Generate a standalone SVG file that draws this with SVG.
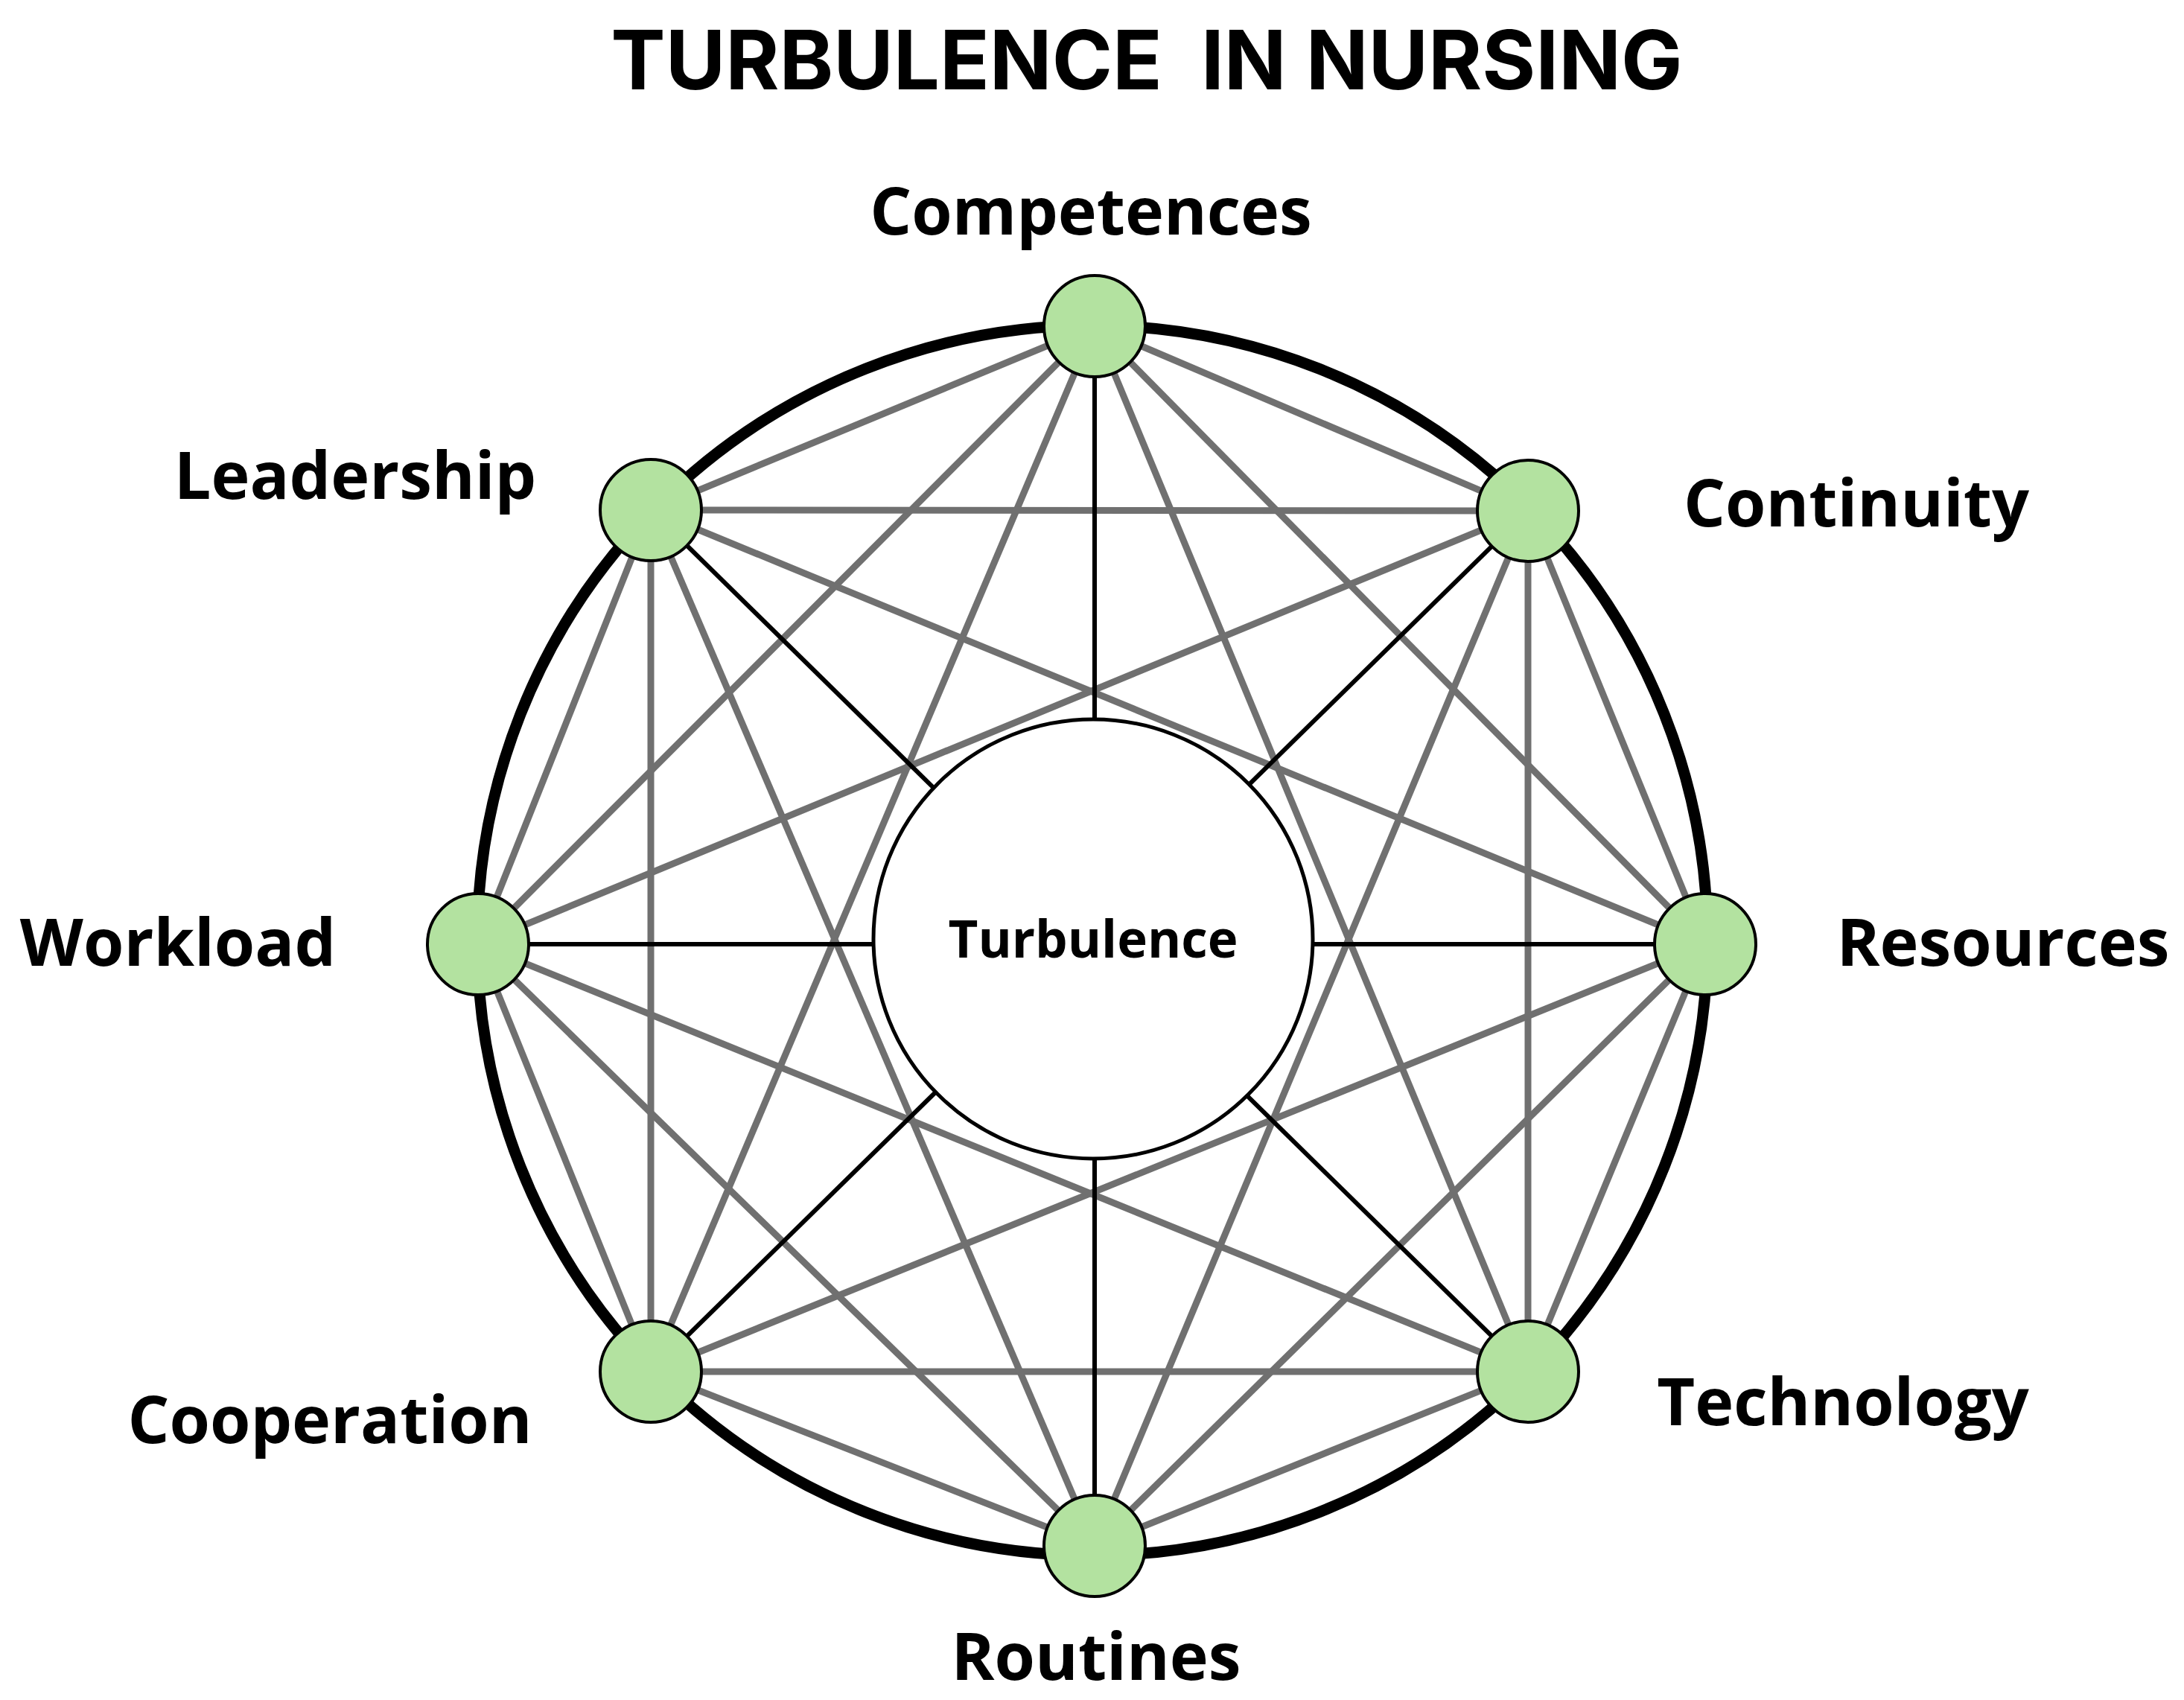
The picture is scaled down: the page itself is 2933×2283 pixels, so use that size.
<svg xmlns="http://www.w3.org/2000/svg" width="2933" height="2283" viewBox="0 0 2933 2283">
<style>
.g{stroke:#707070;stroke-width:9;fill:none}
.k{stroke:#000;stroke-width:6}
.n{fill:#b3e2a0;stroke:#000;stroke-width:4}
.l{font-family:"Open Sans","Liberation Sans",sans-serif;font-weight:bold;font-size:88px;text-anchor:middle;dominant-baseline:central;fill:#000}
</style>
<rect width="2933" height="2283" fill="#fff"/>
<text x="1540" y="80" class="l" style="font-family:Inter,'Liberation Sans',sans-serif;font-size:110px" xml:space="preserve">TURBULENCE  IN NURSING</text>
<circle cx="1467" cy="1263" r="826" fill="none" stroke="#000" stroke-width="15"/>
<g id="connectors">
<g class="g">
<line x1="1470" y1="438" x2="2052" y2="686"/><line x1="1470" y1="438" x2="2290" y2="1268"/><line x1="1470" y1="438" x2="2052" y2="1842"/><line x1="1470" y1="438" x2="874" y2="1842"/><line x1="1470" y1="438" x2="642" y2="1268"/><line x1="1470" y1="438" x2="874" y2="685"/>
<line x1="2052" y1="686" x2="2290" y2="1268"/><line x1="2052" y1="686" x2="2052" y2="1842"/><line x1="2052" y1="686" x2="1470" y2="2076"/><line x1="2052" y1="686" x2="642" y2="1268"/><line x1="2052" y1="686" x2="874" y2="685"/>
<line x1="2290" y1="1268" x2="2052" y2="1842"/><line x1="2290" y1="1268" x2="1470" y2="2076"/><line x1="2290" y1="1268" x2="874" y2="1842"/><line x1="2290" y1="1268" x2="874" y2="685"/>
<line x1="2052" y1="1842" x2="1470" y2="2076"/><line x1="2052" y1="1842" x2="874" y2="1842"/><line x1="2052" y1="1842" x2="642" y2="1268"/>
<line x1="1470" y1="2076" x2="874" y2="1842"/><line x1="1470" y1="2076" x2="642" y2="1268"/><line x1="1470" y1="2076" x2="874" y2="685"/>
<line x1="874" y1="1842" x2="642" y2="1268"/><line x1="874" y1="1842" x2="874" y2="685"/>
<line x1="642" y1="1268" x2="874" y2="685"/>
</g>
<g class="k">
<line x1="1470" y1="438" x2="1470" y2="2076"/><line x1="642" y1="1268" x2="2290" y2="1268"/>
<line x1="874" y1="685" x2="2052" y2="1842"/><line x1="2052" y1="686" x2="874" y2="1842"/>
</g>
</g>
<g id="turbulence"><circle cx="1468" cy="1261" r="295" fill="#fff" stroke="#000" stroke-width="5"/><text x="1468" y="1259" class="l" style="font-size:69px">Turbulence</text></g>
<g id="competences"><circle cx="1470" cy="438" r="68" class="n"/><text x="1465" y="281" class="l">Competences</text></g>
<g id="continuity"><circle cx="2052" cy="686" r="68" class="n"/><text x="2493" y="673" class="l">Continuity</text></g>
<g id="resources"><circle cx="2290" cy="1268" r="68" class="n"/><text x="2690" y="1263" class="l">Resources</text></g>
<g id="technology"><circle cx="2052" cy="1842" r="68" class="n"/><text x="2475" y="1880" class="l">Technology</text></g>
<g id="routines"><circle cx="1470" cy="2076" r="68" class="n"/><text x="1472" y="2222" class="l">Routines</text></g>
<g id="cooperation"><circle cx="874" cy="1842" r="68" class="n"/><text x="443" y="1904" class="l">Cooperation</text></g>
<g id="workload"><circle cx="642" cy="1268" r="68" class="n"/><text x="239" y="1263" class="l">Workload</text></g>
<g id="leadership"><circle cx="874" cy="685" r="68" class="n"/><text x="477" y="636" class="l">Leadership</text></g>
</svg>
